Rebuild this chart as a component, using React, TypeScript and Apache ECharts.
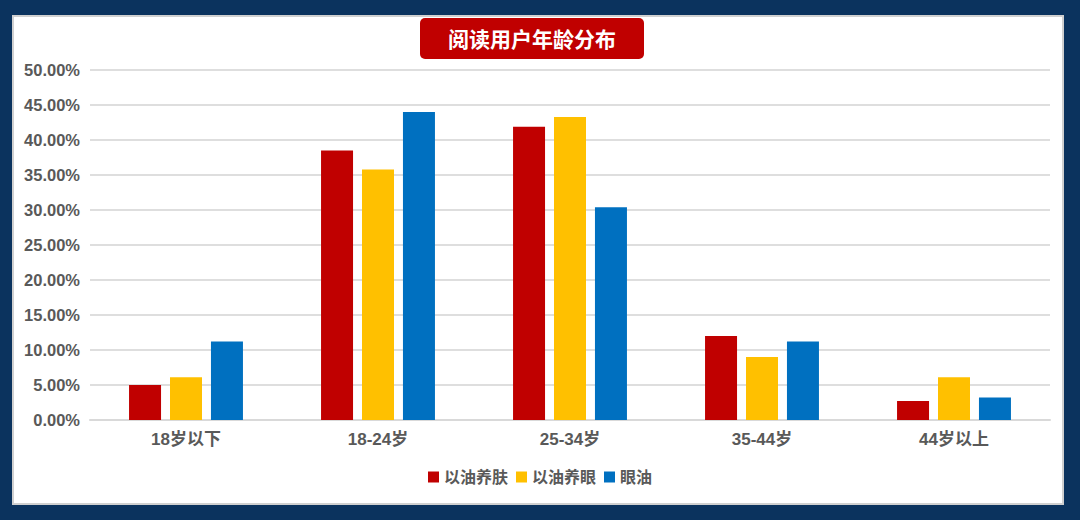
import React, { useEffect, useRef } from "react";
import * as echarts from "echarts";

const categories = ["18岁以下", "18-24岁", "25-34岁", "35-44岁", "44岁以上"];
const seriesNames = ["以油养肤", "以油养眼", "眼油"];
const skinCare = [5.0, 38.5, 41.9, 12.0, 2.7];
const eyeCare = [6.1, 35.8, 43.3, 9.0, 6.1];
const eyeOil = [11.2, 44.0, 30.4, 11.2, 3.2];
const colors = ["#c00000", "#ffc000", "#0070c0"];
const title = "阅读用户年龄分布";

export default function App() {
  const ref = useRef<HTMLDivElement>(null);
  useEffect(() => {
    document.body.style.margin = "0";
    const chart = echarts.init(ref.current!, null, { renderer: "svg" });
    const font = "'Liberation Sans', Arial, 'Noto Sans CJK SC', sans-serif";
    const data = [skinCare, eyeCare, eyeOil];
    chart.setOption({
      animation: false,
      backgroundColor: "#0b335e",
      textStyle: { fontFamily: font },
      graphic: [
        {
          type: "rect",
          z: -10,
          shape: { x: 13, y: 16, width: 1050, height: 488 },
          style: { fill: "#ffffff", stroke: "#d0d0d0", lineWidth: 2 },
        },
        {
          type: "rect",
          shape: { x: 420, y: 18, width: 224, height: 41, r: 5 },
          style: { fill: "#c00000" },
        },
        {
          type: "text",
          x: 532,
          y: 39,
          style: {
            text: title,
            fill: "#ffffff",
            font: `bold 21px ${font}`,
            align: "center",
            verticalAlign: "middle",
          },
        },
      ],
      color: colors,
      legend: {
        bottom: 30,
        left: "center",
        itemWidth: 11,
        itemHeight: 11,
        itemGap: 8,
        icon: "rect",
        textStyle: { color: "#595959", fontSize: 16, fontWeight: "bold", fontFamily: font },
        data: seriesNames,
      },
      grid: { left: 90, right: 30, top: 70, bottom: 100, containLabel: false },
      xAxis: {
        type: "category",
        data: categories,
        axisLine: { lineStyle: { color: "#d9d9d9", width: 2 } },
        axisTick: { show: false },
        axisLabel: { color: "#595959", fontSize: 17, fontWeight: "bold", margin: 11, fontFamily: font },
      },
      yAxis: {
        type: "value",
        min: 0,
        max: 50,
        interval: 5,
        axisLine: { show: false },
        axisTick: { show: false },
        splitLine: { lineStyle: { color: "#dedede", width: 2 } },
        axisLabel: {
          color: "#595959",
          fontSize: 16.5,
          fontWeight: "bold",
          margin: 10,
          fontFamily: font,
          formatter: (v: number) => v.toFixed(2) + "%",
        },
      },
      series: seriesNames.map((name, i) => ({
        name,
        type: "bar",
        data: data[i],
        barWidth: 32,
        barGap: "28%",
        itemStyle: { color: colors[i] },
      })),
    });
    return () => chart.dispose();
  }, []);
  return (
    <div
      ref={ref}
      style={{ position: "fixed", left: 0, top: 0, width: 1080, height: 520 }}
    />
  );
}
